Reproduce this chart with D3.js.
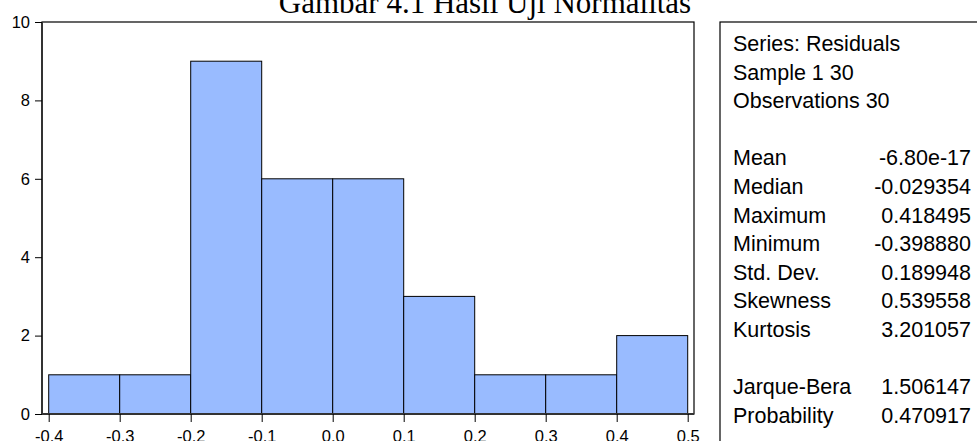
<!DOCTYPE html>
<html>
<head>
<meta charset="utf-8">
<script src="https://cdn.jsdelivr.net/npm/d3@7"></script>
<style>
  html, body { margin: 0; padding: 0; background: #fff; overflow: hidden; }
  svg { display: block; }
</style>
</head>
<body>
<svg id="chart" width="977" height="441"></svg>
<script>
// histogram bins (lower edge, upper edge, count)
const binStarts = [-0.4, -0.3, -0.2, -0.1, 0.0, 0.1, 0.2, 0.3, 0.4]
const binEnds = [-0.3, -0.2, -0.1, 0.0, 0.1, 0.2, 0.3, 0.4, 0.5]
const binCounts = [1, 1, 9, 6, 6, 3, 1, 1, 2]

const xTicks = [-0.4, -0.3, -0.2, -0.1, 0.0, 0.1, 0.2, 0.3, 0.4, 0.5]
const yTicks = [0, 2, 4, 6, 8, 10]

// statistics panel
const statHeader = ['Series: Residuals', 'Sample 1 30', 'Observations 30']
const statLabels = ['Mean', 'Median', 'Maximum', 'Minimum', 'Std. Dev.', 'Skewness', 'Kurtosis']
const statValues = ['-6.80e-17', '-0.029354', '0.418495', '-0.398880', '0.189948', '0.539558', '3.201057']
const testLabels = ['Jarque-Bera', 'Probability']
const testValues = ['1.506147', '0.470917']

const title = 'Gambar 4.1 Hasil Uji Normalitas'

const width = 977
const height = 441
const frame = { left: 42, top: 22, right: 694, bottom: 414 }
const barColor = 'rgb(153,187,255)'
const font = 'Arial, "Liberation Sans", sans-serif'

const svg = d3.select('#chart')

svg.append('rect')
  .attr('width', width)
  .attr('height', height)
  .attr('fill', '#fff')

// title, cut off by the top edge as in the source image
svg.append('text')
  .attr('x', 485)
  .attr('y', 13)
  .attr('text-anchor', 'middle')
  .attr('font-family', '"Liberation Serif", "Times New Roman", serif')
  .attr('font-size', 31)
  .attr('fill', '#000')
  .text(title)

// scales
const x = d3.scaleLinear().domain([-0.4, 0.5]).range([48.7, 687.7])
const y = d3.scaleLinear().domain([0, 10]).range([frame.bottom, frame.top])

const bins = binStarts.map((d, i) => ({ x0: d, x1: binEnds[i], n: binCounts[i] }))

// bars
svg.append('g')
  .attr('id', 'bars')
  .selectAll('rect')
  .data(bins)
  .join('rect')
  .attr('x', (d) => x(d.x0))
  .attr('y', (d) => y(d.n))
  .attr('width', (d) => x(d.x1) - x(d.x0))
  .attr('height', (d) => y(0) - y(d.n))
  .attr('fill', barColor)
  .attr('stroke', '#000')
  .attr('stroke-width', 1)

// plot frame
svg.append('rect')
  .attr('x', frame.left)
  .attr('y', frame.top)
  .attr('width', frame.right - frame.left)
  .attr('height', frame.bottom - frame.top)
  .attr('fill', 'none')
  .attr('stroke', '#000')
  .attr('stroke-width', 1.2)
svg.append('path')
  .attr('d', `M${frame.left},${frame.top}V${frame.bottom}H${frame.right}`)
  .attr('fill', 'none')
  .attr('stroke', '#333')
  .attr('stroke-width', 2)

// y axis
svg.append('g')
  .attr('id', 'yAxis')
  .attr('transform', `translate(${frame.left},0)`)
  .call(d3.axisLeft(y).tickValues(yTicks).tickSize(7).tickSizeOuter(0).tickPadding(5))
  .call((g) => g.select('.domain').remove())
  .call((g) => g.selectAll('line').attr('stroke', '#000'))
  .call((g) =>
    g.selectAll('text')
      .attr('font-family', font)
      .attr('font-size', 16.5)
      .attr('fill', '#000')
  )

// x axis (labels partly cut by the bottom edge, like the source)
svg.append('g')
  .attr('id', 'xAxis')
  .attr('transform', `translate(0,${frame.bottom})`)
  .call(
    d3.axisBottom(x)
      .tickValues(xTicks)
      .tickFormat((d) => d.toFixed(1))
      .tickSize(8)
      .tickSizeOuter(0)
      .tickPadding(8.5)
  )
  .call((g) => g.select('.domain').remove())
  .call((g) => g.selectAll('line').attr('stroke', '#000'))
  .call((g) =>
    g.selectAll('text')
      .attr('font-family', font)
      .attr('font-size', 16.5)
      .attr('fill', '#000')
  )

// statistics panel
const panel = svg.append('g').attr('id', 'stats')
panel.append('rect')
  .attr('x', 720)
  .attr('y', 22)
  .attr('width', 300)
  .attr('height', 460)
  .attr('fill', '#fff')
  .attr('stroke', '#000')
  .attr('stroke-width', 1.2)

const lineH = 28.6
const baseY = 51
const textX = 733
const valueX = 971

const rows = []
statHeader.forEach((t, i) => rows.push({ label: t, value: '', line: i }))
statLabels.forEach((t, i) => rows.push({ label: t, value: statValues[i], line: 4 + i }))
testLabels.forEach((t, i) => rows.push({ label: t, value: testValues[i], line: 12 + i }))

panel.selectAll('text.label')
  .data(rows)
  .join('text')
  .attr('class', 'label')
  .attr('x', textX)
  .attr('y', (d) => baseY + d.line * lineH)
  .attr('font-family', font)
  .attr('font-size', 21.5)
  .attr('fill', '#000')
  .text((d) => d.label)

panel.selectAll('text.value')
  .data(rows.filter((d) => d.value))
  .join('text')
  .attr('class', 'value')
  .attr('x', valueX)
  .attr('y', (d) => baseY + d.line * lineH)
  .attr('text-anchor', 'end')
  .attr('font-family', font)
  .attr('font-size', 21.5)
  .attr('fill', '#000')
  .text((d) => d.value)
</script>
</body>
</html>
